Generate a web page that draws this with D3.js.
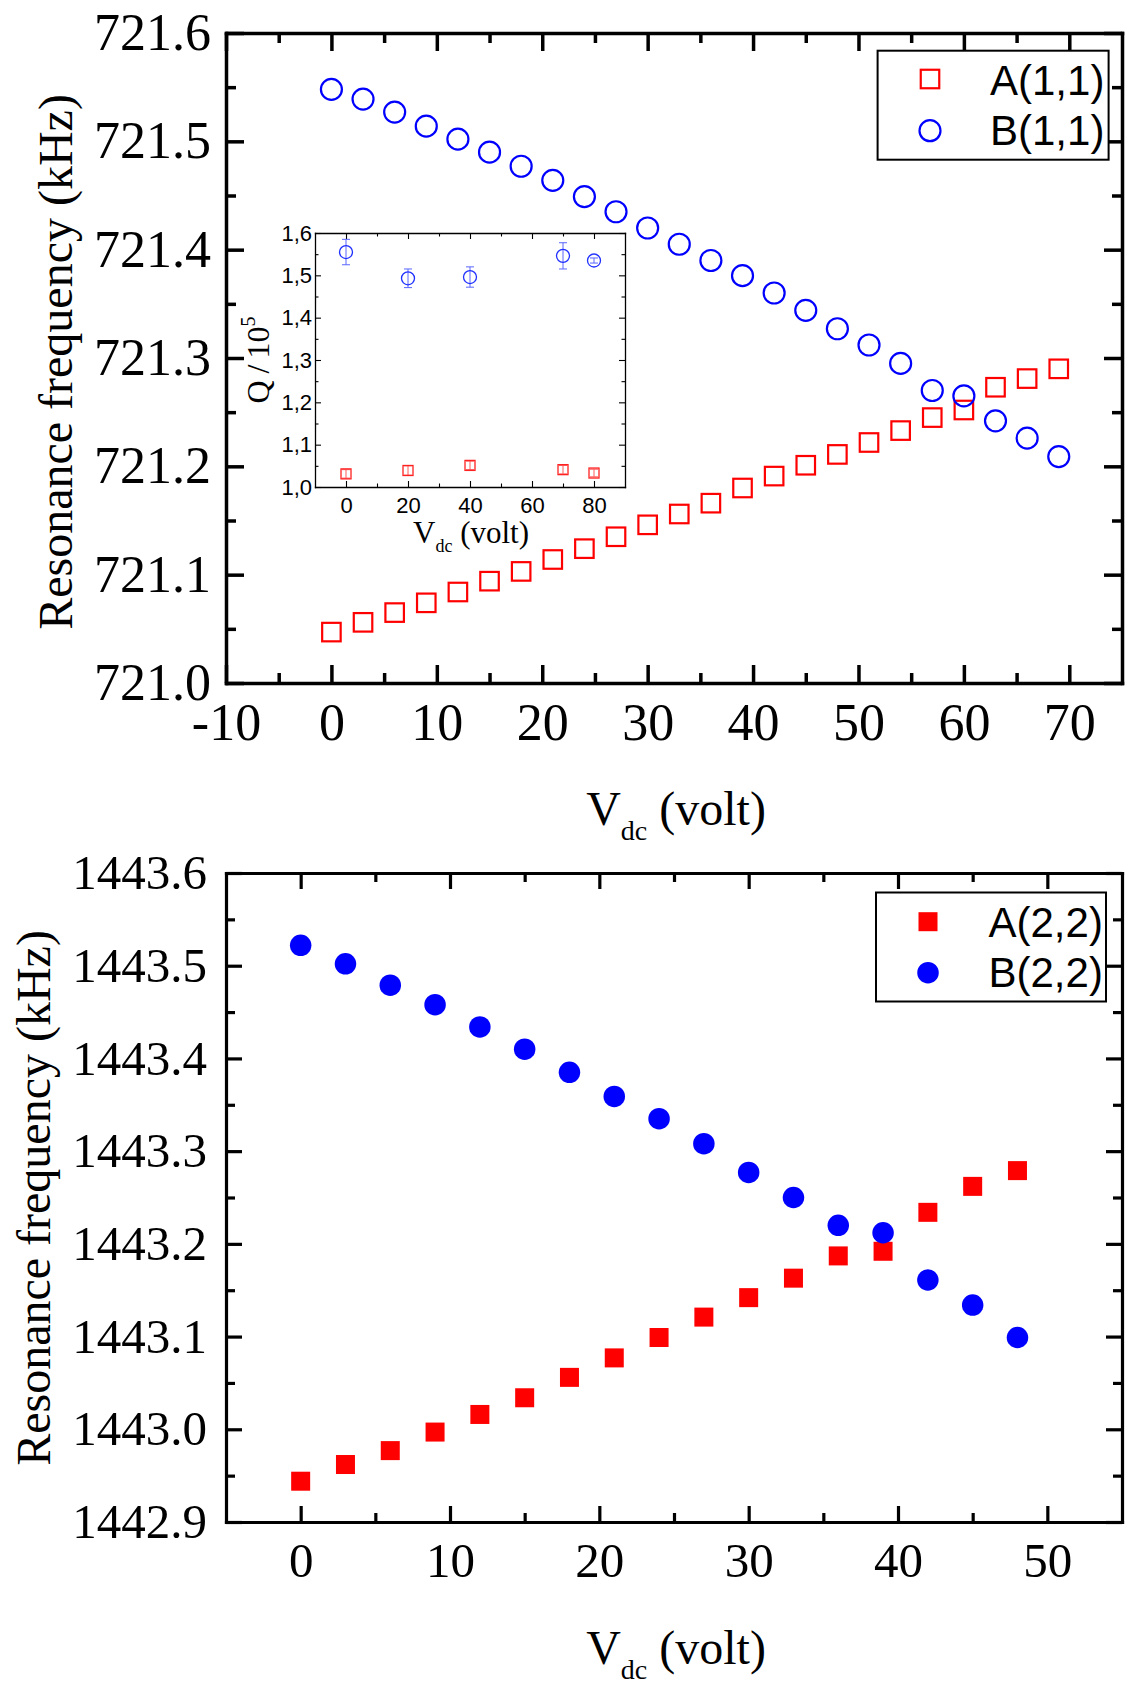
<!DOCTYPE html>
<html>
<head>
<meta charset="utf-8">
<script src="https://cdn.jsdelivr.net/npm/d3@7"></script>
<style>
  body { margin: 0; background: #fff; }
  text { white-space: pre; }
</style>
</head>
<body>
<svg id="chart" width="1128" height="1692"></svg>
<script>
// mode (1,1), top panel
let volt11 = [0, 3, 6, 9, 12, 15, 18, 21, 24, 27, 30, 33, 36, 39, 42, 45, 48, 51, 54, 57, 60, 63, 66, 69],
    freqA11 = [721.047, 721.056, 721.065, 721.074, 721.084, 721.094, 721.103, 721.114, 721.124, 721.135,
               721.146, 721.156, 721.166, 721.180, 721.191, 721.201, 721.211, 721.222, 721.233, 721.245,
               721.252, 721.273, 721.281, 721.290],
    freqB11 = [721.548, 721.539, 721.527, 721.514, 721.502, 721.490, 721.477, 721.464, 721.449, 721.435,
               721.420, 721.405, 721.390, 721.376, 721.360, 721.344, 721.327, 721.312, 721.295, 721.270,
               721.265, 721.242, 721.226, 721.209];

// mode (2,2), bottom panel
let volt22 = [0, 3, 6, 9, 12, 15, 18, 21, 24, 27, 30, 33, 36, 39, 42, 45, 48],
    freqA22 = [1442.944, 1442.962, 1442.977, 1442.997, 1443.016, 1443.034, 1443.056, 1443.077, 1443.099,
               1443.121, 1443.142, 1443.163, 1443.187, 1443.192, 1443.234, 1443.262, 1443.279],
    freqB22 = [1443.522, 1443.502, 1443.479, 1443.458, 1443.434, 1443.410, 1443.385, 1443.359, 1443.335,
               1443.308, 1443.277, 1443.250, 1443.220, 1443.212, 1443.161, 1443.134, 1443.099];

// inset: quality factor
let voltQ = [0, 20, 40, 70, 80],
    qA = [1.031, 1.039, 1.051, 1.041, 1.033],
    qAerr = [0.010, 0.011, 0.010, 0.010, 0.009],
    qB = [1.555, 1.493, 1.496, 1.546, 1.535],
    qBerr = [0.030, 0.022, 0.024, 0.031, 0.006];

// ticks
let xTicks11 = [-10, 0, 10, 20, 30, 40, 50, 60, 70],
    xMinor11 = [-5, 5, 15, 25, 35, 45, 55, 65],
    yTicks11 = [721.0, 721.1, 721.2, 721.3, 721.4, 721.5, 721.6],
    yMinor11 = [721.05, 721.15, 721.25, 721.35, 721.45, 721.55],
    xTicks22 = [0, 10, 20, 30, 40, 50],
    xMinor22 = [5, 15, 25, 35, 45],
    yTicks22 = [1442.9, 1443.0, 1443.1, 1443.2, 1443.3, 1443.4, 1443.5, 1443.6],
    yMinor22 = [1442.95, 1443.05, 1443.15, 1443.25, 1443.35, 1443.45, 1443.55],
    xTicksQ = [0, 20, 40, 60, 80],
    xMinorQ = [10, 30, 50, 70],
    yTicksQ = [1.0, 1.1, 1.2, 1.3, 1.4, 1.5, 1.6],
    yMinorQ = [1.05, 1.15, 1.25, 1.35, 1.45, 1.55];

let serif = "'Liberation Serif', 'Times New Roman', serif",
    sans = "'Liberation Sans', Arial, sans-serif",
    red = "#ff0000",
    blue = "#0000ff";

let svg = d3.select("#chart");

// plain hyphen for negatives, like the original plot
let intFmt = d => String(d),
    oneDec = d => d.toFixed(1);

function addAxis(g, axisFn, scale, ticks, minor, cfg, pad, transform, fmt) {
  let major = axisFn(scale)
    .tickValues(ticks)
    .tickSize(-cfg.major)
    .tickSizeOuter(0)
    .tickPadding(pad)
    .tickFormat(fmt || (() => ""));

  let a = g.append("g").attr("transform", transform).call(major);
  a.attr("font-family", cfg.font).attr("font-size", cfg.size);
  a.select(".domain").attr("stroke-width", cfg.line).attr("stroke-linecap", "square");
  a.selectAll(".tick line").attr("stroke-width", cfg.tickW);

  let m = g.append("g").attr("transform", transform)
    .call(axisFn(scale).tickValues(minor).tickSize(-cfg.minor).tickFormat(() => ""));
  m.select(".domain").remove();
  m.selectAll(".tick line").attr("stroke-width", cfg.tickW);
}

function drawFrame(p) {
  let x = d3.scaleLinear().domain(p.xDomain).range([p.left, p.right]),
      y = d3.scaleLinear().domain(p.yDomain).range([p.bottom, p.top]),
      g = svg.append("g");

  if (p.fill) {
    g.append("rect")
      .attr("x", p.left).attr("y", p.top)
      .attr("width", p.right - p.left).attr("height", p.bottom - p.top)
      .attr("fill", p.fill);
  }

  addAxis(g, d3.axisBottom, x, p.xTicks, p.xMinor, p.axis, p.padX, `translate(0,${p.bottom})`, p.xFmt);
  addAxis(g, d3.axisTop, x, p.xTicks, p.xMinor, p.axis, 0, `translate(0,${p.top})`, null);
  addAxis(g, d3.axisLeft, y, p.yTicks, p.yMinor, p.axis, p.padY, `translate(${p.left},0)`, p.yFmt);
  addAxis(g, d3.axisRight, y, p.yTicks, p.yMinor, p.axis, 0, `translate(${p.right},0)`, null);

  return {x: x, y: y, g: g};
}

function drawSeries(g, scales, xs, ys, m) {
  let pts = xs.map((v, i) => ({v: v, f: ys[i]}));
  let sel = g.append("g").selectAll(null).data(pts).enter();
  if (m.shape === "square") {
    sel.append("rect")
      .attr("x", d => scales.x(d.v) - m.size / 2)
      .attr("y", d => scales.y(d.f) - m.size / 2)
      .attr("width", m.size).attr("height", m.size)
      .attr("fill", m.filled ? m.color : "none")
      .attr("stroke", m.filled ? "none" : m.color)
      .attr("stroke-width", m.stroke);
  } else {
    sel.append("circle")
      .attr("cx", d => scales.x(d.v))
      .attr("cy", d => scales.y(d.f))
      .attr("r", m.size / 2)
      .attr("fill", m.filled ? m.color : "none")
      .attr("stroke", m.filled ? "none" : m.color)
      .attr("stroke-width", m.stroke);
  }
}

function drawErrors(g, scales, xs, ys, errs, color, cap) {
  let pts = xs.map((v, i) => ({v: v, f: ys[i], e: errs[i]}));
  let e = g.append("g").attr("stroke", color).attr("stroke-width", 1)
    .selectAll(null).data(pts).enter().append("g");
  e.append("line")
    .attr("x1", d => scales.x(d.v)).attr("x2", d => scales.x(d.v))
    .attr("y1", d => scales.y(d.f - d.e)).attr("y2", d => scales.y(d.f + d.e));
  [-1, 1].forEach(s => {
    e.append("line")
      .attr("x1", d => scales.x(d.v) - cap / 2).attr("x2", d => scales.x(d.v) + cap / 2)
      .attr("y1", d => scales.y(d.f + s * d.e)).attr("y2", d => scales.y(d.f + s * d.e));
  });
}

function drawLegend(box, entries) {
  let g = svg.append("g");
  g.append("rect")
    .attr("x", box.x).attr("y", box.y).attr("width", box.w).attr("height", box.h)
    .attr("fill", "#fff").attr("stroke", "#000").attr("stroke-width", 2);
  entries.forEach((en, i) => {
    let cy = box.markY[i];
    let s = {x: () => box.markX, y: () => cy};
    drawSeries(g, s, [0], [0], en.marker);
    g.append("text")
      .attr("x", box.textX).attr("y", box.textY[i])
      .attr("font-family", sans).attr("font-size", box.size)
      .text(en.label);
  });
}

function xTitle(cx, y, size, subSize, subDy) {
  let t = svg.append("text")
    .attr("x", cx).attr("y", y)
    .attr("text-anchor", "middle")
    .attr("font-family", serif).attr("font-size", size);
  t.append("tspan").text("V");
  t.append("tspan").attr("font-size", subSize).attr("dy", subDy).text("dc");
  t.append("tspan").attr("dy", -subDy).text(" (volt)");
}

function yTitle(x, cy, size, text) {
  svg.append("text")
    .attr("transform", `translate(${x},${cy}) rotate(-90)`)
    .attr("text-anchor", "middle")
    .attr("font-family", serif).attr("font-size", size)
    .text(text);
}

// ---------- top panel ----------
let bigAxis = {major: 18, minor: 10, line: 3.5, tickW: 3.5, font: serif, size: 52};
let panel11 = drawFrame({
  left: 226, right: 1122, top: 33, bottom: 683,
  xDomain: [-10, 75], yDomain: [721.0, 721.6],
  xTicks: xTicks11, xMinor: xMinor11, yTicks: yTicks11, yMinor: yMinor11,
  axis: bigAxis, padX: 20, padY: 15,
  xFmt: intFmt, yFmt: oneDec
});

let sqOpen = {shape: "square", size: 18.5, color: red, filled: false, stroke: 2.2},
    ciOpen = {shape: "circle", size: 21, color: blue, filled: false, stroke: 2.2};
drawSeries(panel11.g, panel11, volt11, freqA11, sqOpen);
drawSeries(panel11.g, panel11, volt11, freqB11, ciOpen);

// inset
let insetAxis = {major: 6, minor: 3.5, line: 1.3, tickW: 1.1, font: sans, size: 22};
let inset = drawFrame({
  left: 315, right: 625, top: 233, bottom: 487,
  xDomain: [-10, 90], yDomain: [1.0, 1.6],
  xTicks: xTicksQ, xMinor: xMinorQ, yTicks: yTicksQ, yMinor: yMinorQ,
  axis: insetAxis, padX: 10, padY: 3, fill: "#fff",
  xFmt: intFmt, yFmt: d => oneDec(d).replace(".", ",")
});
drawErrors(inset.g, inset, voltQ, qA, qAerr, "#ff5a5a", 8);
drawErrors(inset.g, inset, voltQ, qB, qBerr, "#5a66ff", 8);
drawSeries(inset.g, inset, voltQ, qA, {shape: "square", size: 10, color: "#ff2020", filled: false, stroke: 1.3});
drawSeries(inset.g, inset, voltQ, qB, {shape: "circle", size: 13, color: "#2030ff", filled: false, stroke: 1.3});

xTitle(471, 543, 31, 18, 9);
let qt = svg.append("text")
  .attr("transform", "translate(269,360) rotate(-90)")
  .attr("text-anchor", "middle")
  .attr("font-family", serif).attr("font-size", 32);
qt.append("tspan").text("Q");
qt.append("tspan").attr("dx", 7).text("/");
qt.append("tspan").attr("dx", 6).text("10");
qt.append("tspan").attr("font-size", 20).attr("dy", -14).text("5");

drawLegend({x: 877.6, y: 50.7, w: 231, h: 109, markX: 930, markY: [79, 130.7],
            textX: 990, textY: [94.5, 145], size: 42},
           [{label: "A(1,1)", marker: sqOpen}, {label: "B(1,1)", marker: ciOpen}]);

xTitle(676, 825, 48, 28, 15);
yTitle(72, 362, 48, "Resonance frequency (kHz)");

// ---------- bottom panel ----------
let bigAxis2 = {major: 16, minor: 9, line: 3.2, tickW: 3.2, font: serif, size: 49};
let panel22 = drawFrame({
  left: 226, right: 1122, top: 873, bottom: 1522,
  xDomain: [-5, 55], yDomain: [1442.9, 1443.6],
  xTicks: xTicks22, xMinor: xMinor22, yTicks: yTicks22, yMinor: yMinor22,
  axis: bigAxis2, padX: 20, padY: 19,
  xFmt: intFmt, yFmt: oneDec
});

let sqFill = {shape: "square", size: 19, color: red, filled: true, stroke: 0},
    ciFill = {shape: "circle", size: 21.5, color: blue, filled: true, stroke: 0};
drawSeries(panel22.g, panel22, volt22, freqA22, sqFill);
drawSeries(panel22.g, panel22, volt22, freqB22, ciFill);

drawLegend({x: 876, y: 892.5, w: 230, h: 109, markX: 928, markY: [921.7, 972.7],
            textX: 988.5, textY: [937, 987], size: 42},
           [{label: "A(2,2)", marker: sqFill}, {label: "B(2,2)", marker: ciFill}]);

xTitle(676, 1664, 48, 28, 15);
yTitle(50, 1198, 48, "Resonance frequency (kHz)");
</script>
</body>
</html>
